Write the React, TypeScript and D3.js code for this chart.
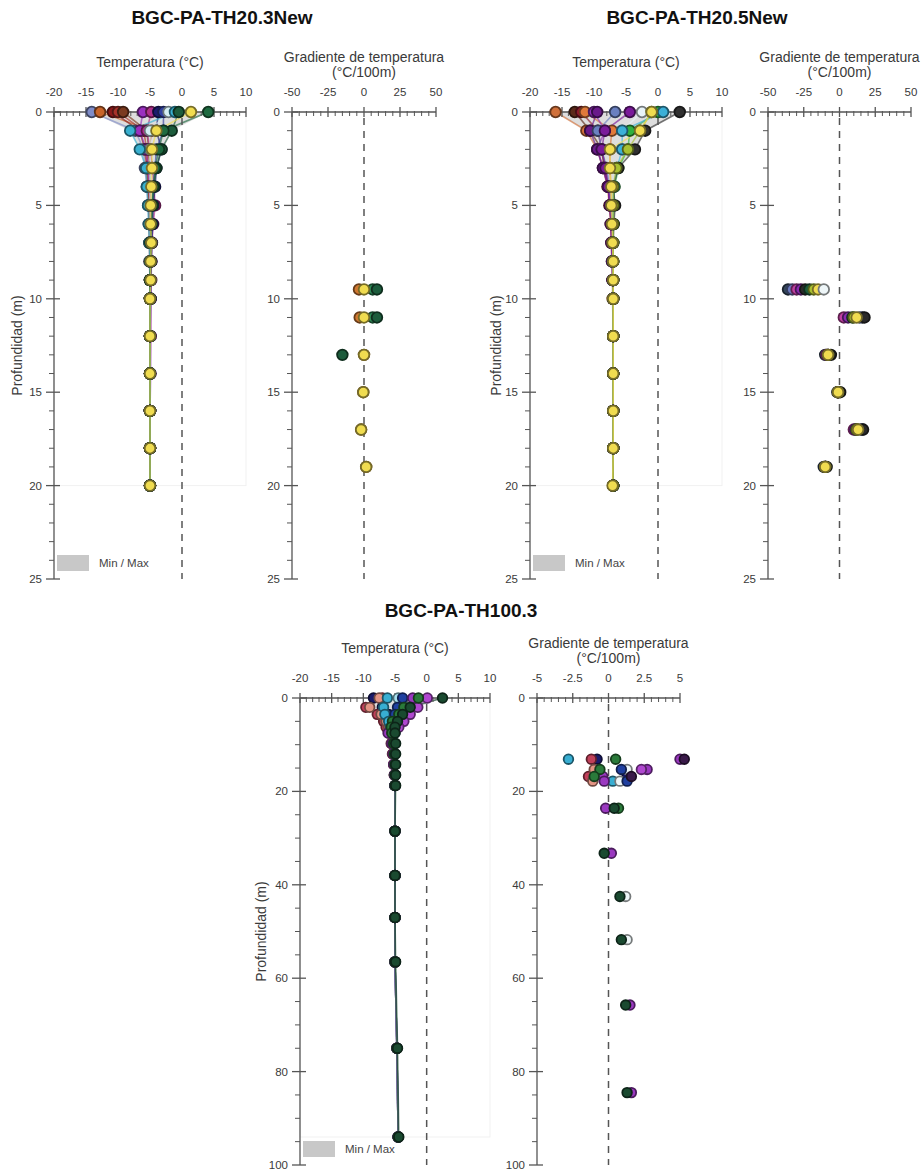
import React from 'react';
import * as d3 from 'd3';

const FONT = '"Liberation Sans", Arial, Helvetica, sans-serif';

// ---------- text ----------
const chartTitles = ['BGC-PA-TH20.3New', 'BGC-PA-TH20.5New', 'BGC-PA-TH100.3'];
const tempAxisTitle = ['Temperatura (°C)'];
const gradAxisTitle = ['Gradiente de temperatura', '(°C/100m)'];
const depthAxisTitle = 'Profundidad (m)';
const legendLabel = 'Min / Max';

// ---------- ticks ----------
const tempTicks = [-20, -15, -10, -5, 0, 5, 10];
const gradTicksTop = [-50, -25, 0, 25, 50];
const gradTicksBottom = [-5, -2.5, 0, 2.5, 5];
const depthTicksTop = [0, 5, 10, 15, 20, 25];
const depthTicksBottom = [0, 20, 40, 60, 80, 100];

// ---------- BGC-PA-TH20.3New ----------
const depthsA = [0, 1, 2, 3, 4, 5, 6, 7, 8, 9, 10, 12, 14, 16, 18, 20];
const colorsTempA = ['#7f8cc8', '#c8642a', '#8c1a1a', '#a8322a', '#7a3a20', '#9a30c0', '#b0308c', '#1c1c6e', '#3040a0', '#d4eef4', '#38b0d0', '#1c5c3c', '#1e6a40', '#f0dc50'];
const tempA: (number | null)[][] = [
  [-14.1, -7.3, -6.0, -5.8, -5.5, -5.3, -5.2, -5.1, -5.1, -5.0, -5.0, -5.0, -5.0, -5.0, -5.0, -5.0],
  [-12.8, -4.7, -5.2, -5.6, -5.4, -5.2, -5.1, -5.1, -5.0, -5.0, -5.0, -5.0, -5.0, -5.0, -5.0, -5.0],
  [-10.8, -6.6, -5.8, -5.5, -5.3, -5.2, -5.1, -5.0, -5.0, -5.0, -5.0, -5.0, -5.0, -5.0, -5.0, -5.0],
  [-10.0, -6.0, -5.5, -5.4, -5.2, -5.1, -5.0, -5.0, -5.0, -5.0, -5.0, -5.0, -5.0, -5.0, -5.0, -5.0],
  [-9.2, -5.5, -5.2, -5.1, -5.0, -5.0, -5.0, -5.0, -5.0, -5.0, -5.0, -5.0, -5.0, -5.0, -5.0, -5.0],
  [-6.1, -6.6, -5.6, -5.3, -5.1, -4.9, -4.8, -4.8, -4.8, -4.9, -4.9, -4.9, -4.9, -5.0, -5.0, -5.0],
  [-4.8, -5.5, -5.0, -4.6, -4.4, -4.2, -4.5, -4.7, -4.8, -4.8, -4.9, -4.9, -5.0, -5.0, -5.0, -5.0],
  [-3.7, -4.0, -3.2, -4.0, -4.2, -4.5, -4.6, -4.7, -4.8, -4.9, -4.9, -5.0, -5.0, -5.0, -5.0, -5.0],
  [-2.9, -2.9, -4.0, -4.2, -4.4, -4.6, -4.7, -4.8, -4.9, -4.9, -5.0, -5.0, -5.0, -5.0, -5.0, -5.0],
  [-2.1, -5.0, -5.0, -5.0, -5.0, -5.0, -5.0, -5.0, -5.0, -5.0, -5.0, -5.0, -5.0, -5.0, -5.0, -5.0],
  [-1.1, -8.1, -6.6, -5.6, -5.5, -5.3, -5.2, -5.1, -5.0, -5.0, -5.0, -5.0, -5.0, -5.0, -5.0, -5.0],
  [-0.5, -1.6, -3.2, -4.0, -4.4, -4.6, -4.8, -4.9, -4.9, -5.0, -5.0, -5.0, -5.0, -5.0, -5.0, -5.0],
  [4.1, -2.9, -3.6, -4.2, -4.5, -4.7, -4.8, -4.9, -4.9, -5.0, -5.0, -5.0, -5.0, -5.0, -5.0, -5.0],
  [1.4, -4.0, -4.7, -4.7, -4.8, -4.9, -4.9, -4.8, -4.9, -4.9, -5.0, -5.0, -5.0, -5.0, -5.0, -5.0],
];
const gradDepthsA = [9.5, 11, 13, 15, 17, 19];
const colorsGradA = ['#d07830', '#2e8b57', '#1c5c3c', '#f0dc50'];
const gradA: (number | null)[][] = [
  [-3.5, -3, 0, -0.5, -2, 1.5],
  [6, 6, null, null, null, null],
  [9, 9, -15, null, null, null],
  [0, 0, 0, -0.5, -2, 1.5],
];

// ---------- BGC-PA-TH20.5New ----------
const colorsTempB = ['#d0703a', '#5a2a1a', '#8c1a2a', '#e07a3a', '#9030b8', '#6a1a8a', '#6a80c0', '#7a1a9a', '#e8f4f8', '#30b040', '#3cb0d8', '#303030', '#a8c030', '#f0dc50'];
const tempB: (number | null)[][] = [
  [-16.0, -11.2, -9.5, -8.6, -7.9, -7.6, -7.4, -7.3, -7.2, -7.1, -7.1, -7.0, -7.0, -7.0, -7.0, -7.0],
  [-13.0, -10.6, -8.8, -8.4, -7.8, -7.5, -7.3, -7.2, -7.1, -7.1, -7.0, -7.0, -7.0, -7.0, -7.0, -7.0],
  [-12.0, -9.4, -8.8, -8.2, -7.8, -7.5, -7.3, -7.2, -7.1, -7.0, -7.0, -7.0, -7.0, -7.0, -7.0, -7.0],
  [-11.4, -7.2, -7.5, -7.5, -7.4, -7.3, -7.2, -7.1, -7.1, -7.0, -7.0, -7.0, -7.0, -7.0, -7.0, -7.0],
  [-10.0, -8.3, -9.5, -8.6, -7.8, -7.5, -7.4, -7.3, -7.2, -7.1, -7.0, -7.0, -7.0, -7.0, -7.0, -7.0],
  [-9.5, -10.6, -9.5, -8.6, -7.8, -7.5, -7.3, -7.2, -7.1, -7.1, -7.0, -7.0, -7.0, -7.0, -7.0, -7.0],
  [-6.7, -9.4, -8.8, -8.0, -7.6, -7.4, -7.2, -7.1, -7.1, -7.0, -7.0, -7.0, -7.0, -7.0, -7.0, -7.0],
  [-4.4, -8.3, -8.8, -8.2, -7.8, -7.5, -7.3, -7.2, -7.1, -7.0, -7.0, -7.0, -7.0, -7.0, -7.0, -7.0],
  [-2.5, -5.6, -5.6, -6.5, -6.8, -6.9, -7.0, -7.0, -7.0, -7.0, -7.0, -7.0, -7.0, -7.0, -7.0, -7.0],
  [0.0, -4.4, -4.7, -6.2, -6.8, -6.9, -7.0, -7.0, -7.0, -7.0, -7.0, -7.0, -7.0, -7.0, -7.0, -7.0],
  [0.8, -5.6, -5.6, -6.4, -6.9, -7.0, -7.0, -7.0, -7.0, -7.0, -7.0, -7.0, -7.0, -7.0, -7.0, -7.0],
  [3.4, -2.0, -3.6, -6.2, -7.0, -6.7, -6.9, -7.0, -7.0, -7.0, -7.0, -7.0, -7.0, -7.0, -7.0, -7.0],
  [-1.0, -2.8, -4.7, -6.5, -7.0, -7.0, -7.0, -7.0, -7.0, -7.0, -7.0, -7.0, -7.0, -7.0, -7.0, -7.0],
  [-1.0, -2.8, -7.5, -7.5, -7.3, -7.3, -7.2, -7.1, -7.0, -7.0, -7.0, -7.0, -7.0, -7.0, -7.0, -7.1],
];
const gradDepthsB = [9.5, 11, 13, 15, 17, 19];
const colorsGradB = ['#34465a', '#6a7ac0', '#c040a0', '#8a2ab0', '#2a2a2a', '#1c5c3c', '#a8c030', '#f0dc50', '#eef6f8'];
const gradB: (number | null)[][] = [
  [-36, 16, -10, -1.5, 16, -11],
  [-33, 14, -9, -1, 15, -10],
  [-30, 3, -9, -1, 10, -10],
  [-27, 6, -8, -1, 11, -10],
  [-24, 17.5, -6, 0.5, 16.5, -9],
  [-21, 9, -8, -1, 12, -10],
  [-18, 10, -8, -1, 12, -10],
  [-15, 12, -8, -1, 13, -10],
  [-11, null, null, null, null, null],
];

// ---------- BGC-PA-TH100.3 ----------
const depthsC = [0, 2, 3.5, 5, 6.25, 7.5, 9.75, 12, 14.25, 16.5, 18.75, 28.5, 38, 47, 56.5, 75, 94];
const colorsTempC = ['#1a1a6a', '#c0405a', '#e49484', '#38aed2', '#a8e2f0', '#2040a0', '#9a38c0', '#b048d0', '#2a7a3a', '#1a4a30'];
const tempC: (number | null)[][] = [
  [-8.4, -7.0, -6.0, -5.6, -5.4, -5.3, -5.2, -5.1, -5.1, -5.0, -5.0, -5.0, -5.0, -5.0, -5.0, -4.7, -4.5],
  [-7.0, -9.6, -7.8, -6.8, -6.4, -6.0, -5.6, -5.4, -5.2, -5.1, -5.0, -5.0, -5.0, -5.0, -5.0, -4.7, -4.5],
  [-7.5, -9.0, -7.2, -6.4, -6.0, -5.7, -5.5, -5.3, -5.2, -5.1, -5.0, -5.0, -5.0, -5.0, -5.0, -4.7, -4.5],
  [-6.2, -6.8, -6.6, -6.0, -5.7, -5.5, -5.3, -5.2, -5.1, -5.0, -5.0, -5.0, -5.0, -5.0, -5.0, -4.7, -4.5],
  [-4.5, -3.2, -4.6, -5.0, -5.2, -5.2, -5.2, -5.1, -5.0, -5.0, -5.0, -5.0, -5.0, -5.0, -5.0, -4.7, -4.5],
  [-3.8, -4.6, -5.0, -4.5, -5.0, -5.0, -5.0, -5.0, -5.0, -5.0, -5.0, -5.0, -5.0, -5.0, -5.0, -4.7, -4.5],
  [-2.2, -2.4, -3.2, -4.0, -5.2, -6.1, -5.5, -5.3, -5.2, -5.1, -5.0, -5.0, -5.0, -5.0, -5.0, -4.7, -4.5],
  [0.1, -1.4, -2.6, -3.6, -4.4, -5.5, -5.3, -5.2, -5.1, -5.0, -5.0, -5.0, -5.0, -5.0, -5.0, -4.7, -4.5],
  [-1.3, -3.6, -4.4, -5.4, -5.6, -5.5, -5.2, -5.1, -5.0, -5.0, -5.0, -5.0, -5.0, -5.0, -5.0, -4.7, -4.5],
  [2.5, -2.6, -3.8, -4.6, -5.0, -5.0, -4.9, -4.9, -4.9, -4.9, -4.9, -5.0, -5.0, -5.0, -4.9, -4.6, -4.4],
];
const gradDepthsC = [13.1, 15.3, 16.8, 17.8, 23.6, 33.25, 42.5, 51.75, 65.75, 84.5];
const colorsGradC = ['#1a1a6a', '#c0405a', '#e49484', '#38aed2', '#eef6f8', '#2040a0', '#9a38c0', '#b048d0', '#2a7a3a', '#3a1a4a', '#1a4a30'];
const gradC: (number | null)[][] = [
  [-0.8, null, 1.3, null, null, null, null, null, null, null],
  [-1.2, null, -1.4, null, null, null, null, null, null, null],
  [null, -1.0, null, -1.1, null, null, null, null, null, null],
  [-2.8, null, null, 0.3, null, null, null, null, null, null],
  [null, 1.3, null, 0.8, null, null, 1.2, 1.3, null, null],
  [null, 0.9, null, 1.3, null, null, null, null, null, null],
  [5.0, 2.7, -0.4, -0.3, -0.2, 0.2, null, null, 1.5, 1.6],
  [null, 2.3, null, null, null, null, null, null, null, null],
  [0.5, -0.6, -1.0, null, 0.7, null, null, null, null, null],
  [5.3, null, 1.6, null, null, null, null, null, null, null],
  [null, null, null, null, 0.4, -0.3, 0.8, 0.9, 1.2, 1.3],
];

type PanelProps = {
  xRange: [number, number];
  yRange: [number, number];
  xTicks: number[];
  xMinorStep: number;
  yTicks: number[];
  yMinorStep: number;
  titleLines: string[];
  depths: number[];
  values: (number | null)[][];
  colors: string[];
  band: boolean;
  yTitleX?: number;
  r: number;
};

function minorTicks(ticks: number[], step: number) {
  const lo = ticks[0], hi = ticks[ticks.length - 1];
  return d3.range(lo, hi + step / 2, step).filter((v) => !ticks.some((t) => Math.abs(t - v) < 1e-6));
}

function Panel(p: PanelProps) {
  const xs = d3.scaleLinear().domain([p.xTicks[0], p.xTicks[p.xTicks.length - 1]]).range(p.xRange);
  const ys = d3.scaleLinear().domain([p.yTicks[0], p.yTicks[p.yTicks.length - 1]]).range(p.yRange);
  const ax = p.xRange[0];
  const ay = p.yRange[0];
  const yEnd = p.yRange[1];
  const axisColor = '#555';
  const textColor = '#3a3a3a';

  const rows = p.depths.map((d, i) => {
    const vals = p.values.map((s) => s[i]).filter((v) => v != null) as number[];
    return { d, lo: d3.min(vals) as number, hi: d3.max(vals) as number };
  });
  const area = d3
    .area<{ d: number; lo: number; hi: number }>()
    .y((r) => ys(r.d))
    .x0((r) => xs(r.lo))
    .x1((r) => xs(r.hi));
  const line = d3
    .line<number | null>()
    .defined((v) => v != null)
    .x((v) => xs(v as number))
    .y((_, i) => ys(p.depths[i]));

  const lastDepth = p.depths[p.depths.length - 1];
  const titleCenter = (ax + p.xRange[1]) / 2;

  return (
    <g>
      {p.band && (
        <rect x={ax} y={ay} width={p.xRange[1] - ax} height={ys(lastDepth) - ay} fill="none" stroke="#f1f1f1" />
      )}
      {p.band && <path d={area(rows) || ''} fill="#bdbdbd" opacity={0.5} />}
      {p.band &&
        p.values.map((s, i) => (
          <path key={'l' + i} d={line(s) || ''} fill="none" stroke={p.colors[i]} strokeWidth={1.6} opacity={0.65} />
        ))}
      {/* zero line */}
      <line x1={xs(0)} x2={xs(0)} y1={ay + 6} y2={yEnd} stroke="#555" strokeWidth={1.5} strokeDasharray="7,6" />
      {/* axes */}
      <line x1={ax} x2={p.xRange[1]} y1={ay} y2={ay} stroke={axisColor} strokeWidth={1.3} />
      <line x1={ax} x2={ax} y1={ay} y2={yEnd} stroke={axisColor} strokeWidth={1.3} />
      {p.xTicks.map((t) => (
        <g key={'xt' + t}>
          <line x1={xs(t)} x2={xs(t)} y1={ay - 5} y2={ay + 5} stroke={axisColor} strokeWidth={1.3} />
          <text x={xs(t)} y={ay - 16} textAnchor="middle" fontSize={11.5} fill={textColor} fontFamily={FONT}>
            {t}
          </text>
        </g>
      ))}
      {minorTicks(p.xTicks, p.xMinorStep).map((t) => (
        <line key={'xm' + t} x1={xs(t)} x2={xs(t)} y1={ay - 1} y2={ay + 4} stroke={axisColor} strokeWidth={1} />
      ))}
      {p.yTicks.map((t) => (
        <g key={'yt' + t}>
          <line x1={ax - 8} x2={ax + 6} y1={ys(t)} y2={ys(t)} stroke={axisColor} strokeWidth={1.3} />
          <text x={ax - 12} y={ys(t) + 4} textAnchor="end" fontSize={11.5} fill={textColor} fontFamily={FONT}>
            {t}
          </text>
        </g>
      ))}
      {minorTicks(p.yTicks, p.yMinorStep).map((t) => (
        <line key={'ym' + t} x1={ax - 5} x2={ax} y1={ys(t)} y2={ys(t)} stroke={axisColor} strokeWidth={1} />
      ))}
      {/* axis title */}
      {p.titleLines.map((tl, i) => (
        <text
          key={'tl' + i}
          x={titleCenter}
          y={ay - (p.titleLines.length === 1 ? 45 : 50 - i * 15)}
          textAnchor="middle"
          fontSize={14}
          fill={textColor}
          fontFamily={FONT}
        >
          {tl}
        </text>
      ))}
      {p.yTitleX != null && (
        <text
          transform={`translate(${p.yTitleX},${(ay + yEnd) / 2}) rotate(-90)`}
          textAnchor="middle"
          dominantBaseline="middle"
          fontSize={14}
          fill={textColor}
          fontFamily={FONT}
        >
          {depthAxisTitle}
        </text>
      )}
      {p.band && (
        <g>
          <rect x={ax + 3} y={yEnd - 24} width={32} height={16} fill="#c8c8c8" />
          <text x={ax + 45} y={yEnd - 12} fontSize={11.5} fill="#444" fontFamily={FONT}>
            {legendLabel}
          </text>
        </g>
      )}
      {/* points */}
      {p.values.map((s, si) =>
        s.map((v, i) =>
          v == null ? null : (
            <circle
              key={'c' + si + '_' + i}
              cx={xs(v)}
              cy={ys(p.depths[i])}
              r={p.r}
              fill={p.colors[si]}
              stroke={d3.color(p.colors[si])!.darker(2).formatHex()}
              strokeWidth={1.8}
            />
          )
        )
      )}
    </g>
  );
}

export default function App() {
  return (
    <svg
      width={923}
      height={1172}
      style={{ position: 'absolute', left: 0, top: 0, display: 'block', background: '#fff' }}
      fontFamily={FONT}
    >
      <rect x={0} y={0} width={923} height={1172} fill="#fff" />
      <text x={222} y={24} textAnchor="middle" fontSize={19} fontWeight="bold" fill="#111" fontFamily={FONT}>
        {chartTitles[0]}
      </text>
      <text x={697} y={24} textAnchor="middle" fontSize={19} fontWeight="bold" fill="#111" fontFamily={FONT}>
        {chartTitles[1]}
      </text>
      <text x={461} y={617} textAnchor="middle" fontSize={19} fontWeight="bold" fill="#111" fontFamily={FONT}>
        {chartTitles[2]}
      </text>

      <Panel xRange={[54, 246]} yRange={[112, 579]} xTicks={tempTicks} xMinorStep={1} yTicks={depthTicksTop} yMinorStep={1}
        titleLines={tempAxisTitle} depths={depthsA} values={tempA} colors={colorsTempA} band yTitleX={18} r={5.3} />
      <Panel xRange={[292, 436]} yRange={[112, 579]} xTicks={gradTicksTop} xMinorStep={5} yTicks={depthTicksTop} yMinorStep={1}
        titleLines={gradAxisTitle} depths={gradDepthsA} values={gradA} colors={colorsGradA} band={false} r={5.3} />

      <Panel xRange={[530, 722]} yRange={[112, 579]} xTicks={tempTicks} xMinorStep={1} yTicks={depthTicksTop} yMinorStep={1}
        titleLines={tempAxisTitle} depths={depthsA} values={tempB} colors={colorsTempB} band yTitleX={497} r={5.3} />
      <Panel xRange={[768, 911]} yRange={[112, 579]} xTicks={gradTicksTop} xMinorStep={5} yTicks={depthTicksTop} yMinorStep={1}
        titleLines={gradAxisTitle} depths={gradDepthsB} values={gradB} colors={colorsGradB} band={false} r={5.3} />

      <Panel xRange={[300, 490]} yRange={[698, 1165]} xTicks={tempTicks} xMinorStep={1} yTicks={depthTicksBottom} yMinorStep={5}
        titleLines={tempAxisTitle} depths={depthsC} values={tempC} colors={colorsTempC} band yTitleX={262} r={4.8} />
      <Panel xRange={[537, 680]} yRange={[698, 1165]} xTicks={gradTicksBottom} xMinorStep={0.5} yTicks={depthTicksBottom} yMinorStep={5}
        titleLines={gradAxisTitle} depths={gradDepthsC} values={gradC} colors={colorsGradC} band={false} r={4.8} />
    </svg>
  );
}
